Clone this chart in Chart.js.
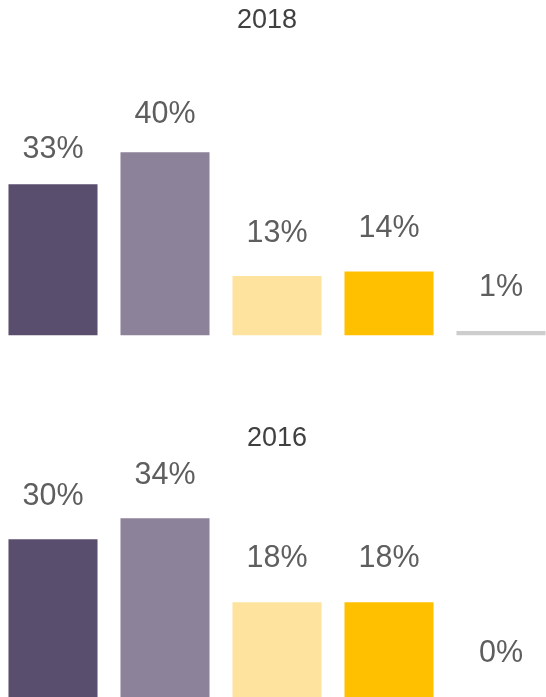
<!DOCTYPE html>
<html>
<head>
<meta charset="utf-8">
<script src="https://cdn.jsdelivr.net/npm/chart.js@4/dist/chart.umd.min.js"></script>
<style>
  html, body { margin: 0; padding: 0; background: #fff; overflow: hidden; }
  body { width: 546px; height: 697px; position: relative; }
  canvas { position: absolute; left: -3px; }
  #top { top: 0; }
  #bottom { top: 400px; }
</style>
</head>
<body>
<canvas id="top" width="560" height="350"></canvas>
<canvas id="bottom" width="560" height="297"></canvas>
<script>
// Data
const categories = ['Category 1', 'Category 2', 'Category 3', 'Category 4', 'Category 5'];
const values2018 = [33, 40, 13, 14, 1];
const values2016 = [30, 34, 18, 18, 0];
const barColors = ['#5a4e6e', '#8c8299', '#fde39d', '#ffc000', '#cdcdcd'];

const FONT = '"Liberation Sans", Arial, sans-serif';

// title drawn by hand so it can sit off-centre like the original
const chartTitle = {
    id: 'chartTitle',
    afterDraw(chart, args, opts) {
        const ctx = chart.ctx;
        ctx.save();
        ctx.font = '27px ' + FONT;
        ctx.fillStyle = '#404040';
        ctx.textAlign = 'center';
        ctx.textBaseline = 'alphabetic';
        ctx.fillText(opts.text, chart.width / 2 + opts.dx, opts.baseline);
        ctx.restore();
    }
};

// draws "NN%" above each bar
const valueLabels = {
    id: 'valueLabels',
    afterDatasetsDraw(chart, args, opts) {
        const ctx = chart.ctx;
        const meta = chart.getDatasetMeta(0);
        const values = chart.data.datasets[0].data;
        ctx.save();
        ctx.font = '30.5px ' + FONT;
        ctx.fillStyle = '#5e5e5e';
        ctx.textAlign = 'center';
        ctx.textBaseline = 'alphabetic';
        meta.data.forEach((bar, i) => {
            ctx.fillText(values[i] + '%', bar.x, bar.y - opts.gaps[i]);
        });
        ctx.restore();
    }
};

function makeChart(id, title, values, yMax, pad, titleOpts, gaps) {
    return new Chart(document.getElementById(id), {
        type: 'bar',
        data: {
            labels: categories,
            datasets: [{
                data: values,
                backgroundColor: barColors,
                borderWidth: 0,
                barPercentage: 0.795,
                categoryPercentage: 1
            }]
        },
        options: {
            responsive: false,
            animation: false,
            layout: { padding: pad },
            scales: {
                x: { display: false },
                y: { display: false, min: 0, max: yMax }
            },
            plugins: {
                legend: { display: false },
                tooltip: { enabled: false },
                title: { display: false },
                chartTitle: Object.assign({ text: title }, titleOpts),
                valueLabels: { gaps: gaps }
            }
        },
        plugins: [valueLabels, chartTitle]
    });
}

makeChart('top', '2018', values2018, 60,
    { left: 0, right: 0, top: 60.7, bottom: 14.5 },
    { dx: -10, baseline: 28.3 },
    [26, 29, 34, 34, 35]);
makeChart('bottom', '2016', values2016, 40,
    { left: 0, right: 0, top: 86.6, bottom: 0 },
    { dx: 0, baseline: 46 },
    [34, 34, 35, 35, 35]);
</script>
</body>
</html>
